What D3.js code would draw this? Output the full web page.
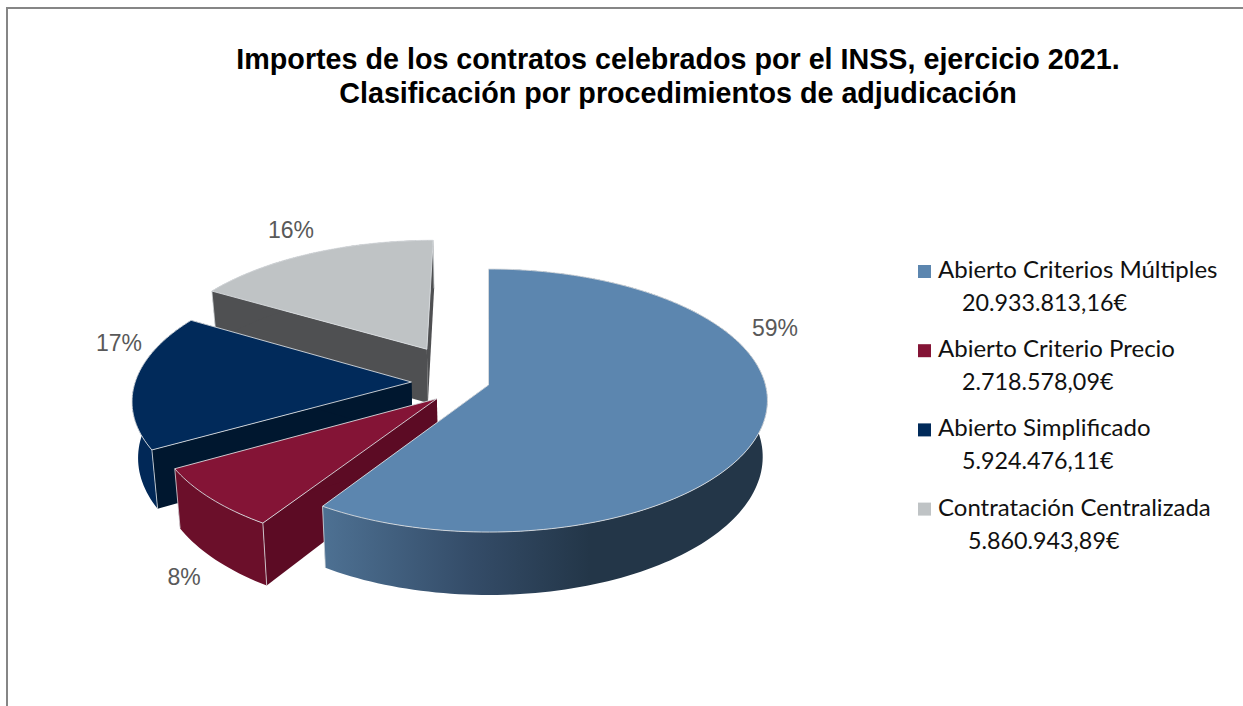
<!DOCTYPE html>
<html>
<head>
<meta charset="utf-8">
<script src="https://cdn.jsdelivr.net/npm/d3@7"></script>
<style>
  html, body { margin: 0; padding: 0; background: #fff; }
  svg { display: block; }
</style>
</head>
<body>
<div id="chart"></div>
<script>
// data
const categories = ['Abierto Criterios Múltiples', 'Abierto Criterio Precio', 'Abierto Simplificado', 'Contratación Centralizada'];
const amounts = [20933813.16, 2718578.09, 5924476.11, 5860943.89];
const pctLabels = ['59%', '8%', '17%', '16%'];
const titleLines = ['Importes de los contratos celebrados por el INSS, ejercicio 2021.', 'Clasificación por procedimientos de adjudicación'];

// colours per slice
const topColors = ['#5c86af', '#841436', '#012a5a', '#bfc3c5'];
const arcWallColors = ['url(#blueWall)', '#6b0f2a', '#012857', '#4f5052'];
const radialWallColors = ['#3f5f80', '#5c0b24', '#00172f', '#4f5052'];

// explosion of each slice on the pie plane, in radius units [across, towards viewer]
const explode = [[0, 0], [-0.184, 0.104], [-0.279, -0.023], [-0.23, -0.285]];

// where the percent labels sit (baseline middle)
const labelSpots = [[775, 336], [184, 585], [119, 351], [291, 238]];

const width = 1243, height = 706;

// perspective projection of the tilted pie
const cx = 488.5, cy = 385, rx = 277, ry = 129.7, persp = 0.118;
const depth = 55.5, bottomScale = 0.983;

function project(u, v, lower) {
    const f = 1 / (1 - persp * v);
    const x = rx * u * f, y = ry * v * f;
    if (!lower) return [cx + x, cy + y];
    return [cx + x * bottomScale, cy + y + depth * f];
}

const esLocale = d3.formatLocale({ decimal: ',', thousands: '.', grouping: [3], currency: ['', '€'] });
const fmtAmount = esLocale.format(',.2f');

const svg = d3.select('#chart').append('svg')
    .attr('width', width)
    .attr('height', height)
    .attr('viewBox', `0 0 ${width} ${height}`);

// frame of the chart area, open on the right and at the bottom
svg.append('path')
    .attr('d', `M7,${height} V8 H${width}`)
    .attr('fill', 'none')
    .attr('stroke', '#868686')
    .attr('stroke-width', 2);

const defs = svg.append('defs');
const grad = defs.append('linearGradient')
    .attr('id', 'blueWall')
    .attr('gradientUnits', 'userSpaceOnUse')
    .attr('x1', 326).attr('x2', 590)
    .attr('y1', 0).attr('y2', 0);
grad.append('stop').attr('offset', 0).attr('stop-color', '#4d7092');
grad.append('stop').attr('offset', 0.55).attr('stop-color', '#344c68');
grad.append('stop').attr('offset', 1).attr('stop-color', '#233648');

const pie = d3.pie().sort(null).value(d => d)
    .startAngle(0).endAngle(2 * Math.PI);
const slices = pie(amounts).map((d, i) => ({ ...d, i }));

const line = d3.line();

function arcPoints(d, lower) {
    const [du, dv] = explode[d.i];
    const steps = Math.ceil((d.endAngle - d.startAngle) * 40);
    return d3.range(steps + 1).map(s => {
        const a = d.startAngle + (d.endAngle - d.startAngle) * s / steps;
        return project(du + Math.sin(a), dv - Math.cos(a), lower);
    });
}
function apex(d, lower) {
    const [du, dv] = explode[d.i];
    return project(du, dv, lower);
}

// painted from back to front: grey, navy, red, blue
const order = [3, 2, 1, 0];
const pieG = svg.append('g');

order.forEach(k => {
    const d = slices[k];
    const g = pieG.append('g').attr('class', 'slice');
    const top = arcPoints(d, false);
    const bot = arcPoints(d, true);
    const last = top.length - 1;
    const a0 = apex(d, false), a1 = apex(d, true);

    // radial walls
    [[top[0], bot[0]], [top[last], bot[last]]].forEach(([t, b]) => {
        g.append('path')
            .attr('d', line([a0, t, b, a1]) + 'Z')
            .attr('fill', radialWallColors[k]);
    });
    // rim
    g.append('path')
        .attr('d', line(top.concat(bot.slice().reverse())) + 'Z')
        .attr('fill', arcWallColors[k]);
    // corner lines
    [[top[0], bot[0]], [top[last], bot[last]]].forEach(pts => {
        g.append('path')
            .attr('d', line(pts))
            .attr('fill', 'none')
            .attr('stroke', '#d9dde0')
            .attr('stroke-width', 0.8);
    });
    // top face
    g.append('path')
        .attr('d', line([a0].concat(top)) + 'Z')
        .attr('fill', topColors[k])
        .attr('stroke', '#d9dde0')
        .attr('stroke-width', 0.9)
        .attr('stroke-linejoin', 'round');
});

// percent labels
svg.append('g').selectAll('text')
    .data(pctLabels)
    .join('text')
    .attr('x', (d, i) => labelSpots[i][0])
    .attr('y', (d, i) => labelSpots[i][1])
    .attr('text-anchor', 'middle')
    .attr('font-family', '"Liberation Sans", Arial, sans-serif')
    .attr('font-size', 23)
    .attr('fill', '#595959')
    .text(d => d);

// title
svg.append('g').selectAll('text')
    .data(titleLines)
    .join('text')
    .attr('x', 678)
    .attr('y', (d, i) => 69 + i * 34)
    .attr('text-anchor', 'middle')
    .attr('font-family', '"Liberation Sans", Arial, sans-serif')
    .attr('font-weight', 'bold')
    .attr('font-size', 28.7)
    .attr('fill', '#000')
    .text(d => d);

// legend
const legendX = 918, legendY = d3.scaleLinear().domain([0, 1]).range([278, 357.2]);
const legendIndent = [962, 962, 962, 968];
const legend = svg.append('g').selectAll('g')
    .data(categories)
    .join('g')
    .attr('font-family', 'Lato, "Noto Sans", sans-serif')
    .attr('fill', '#111');

legend.append('rect')
    .attr('x', legendX)
    .attr('y', (d, i) => legendY(i) - 13)
    .attr('width', 13)
    .attr('height', 13)
    .attr('fill', (d, i) => topColors[i]);
legend.append('text')
    .attr('x', 938)
    .attr('y', (d, i) => legendY(i))
    .attr('font-size', 24)
    .text(d => d);
legend.append('text')
    .attr('x', (d, i) => legendIndent[i])
    .attr('y', (d, i) => legendY(i) + 33)
    .attr('font-size', 23.3)
    .text((d, i) => fmtAmount(amounts[i]) + '€');
</script>
</body>
</html>
